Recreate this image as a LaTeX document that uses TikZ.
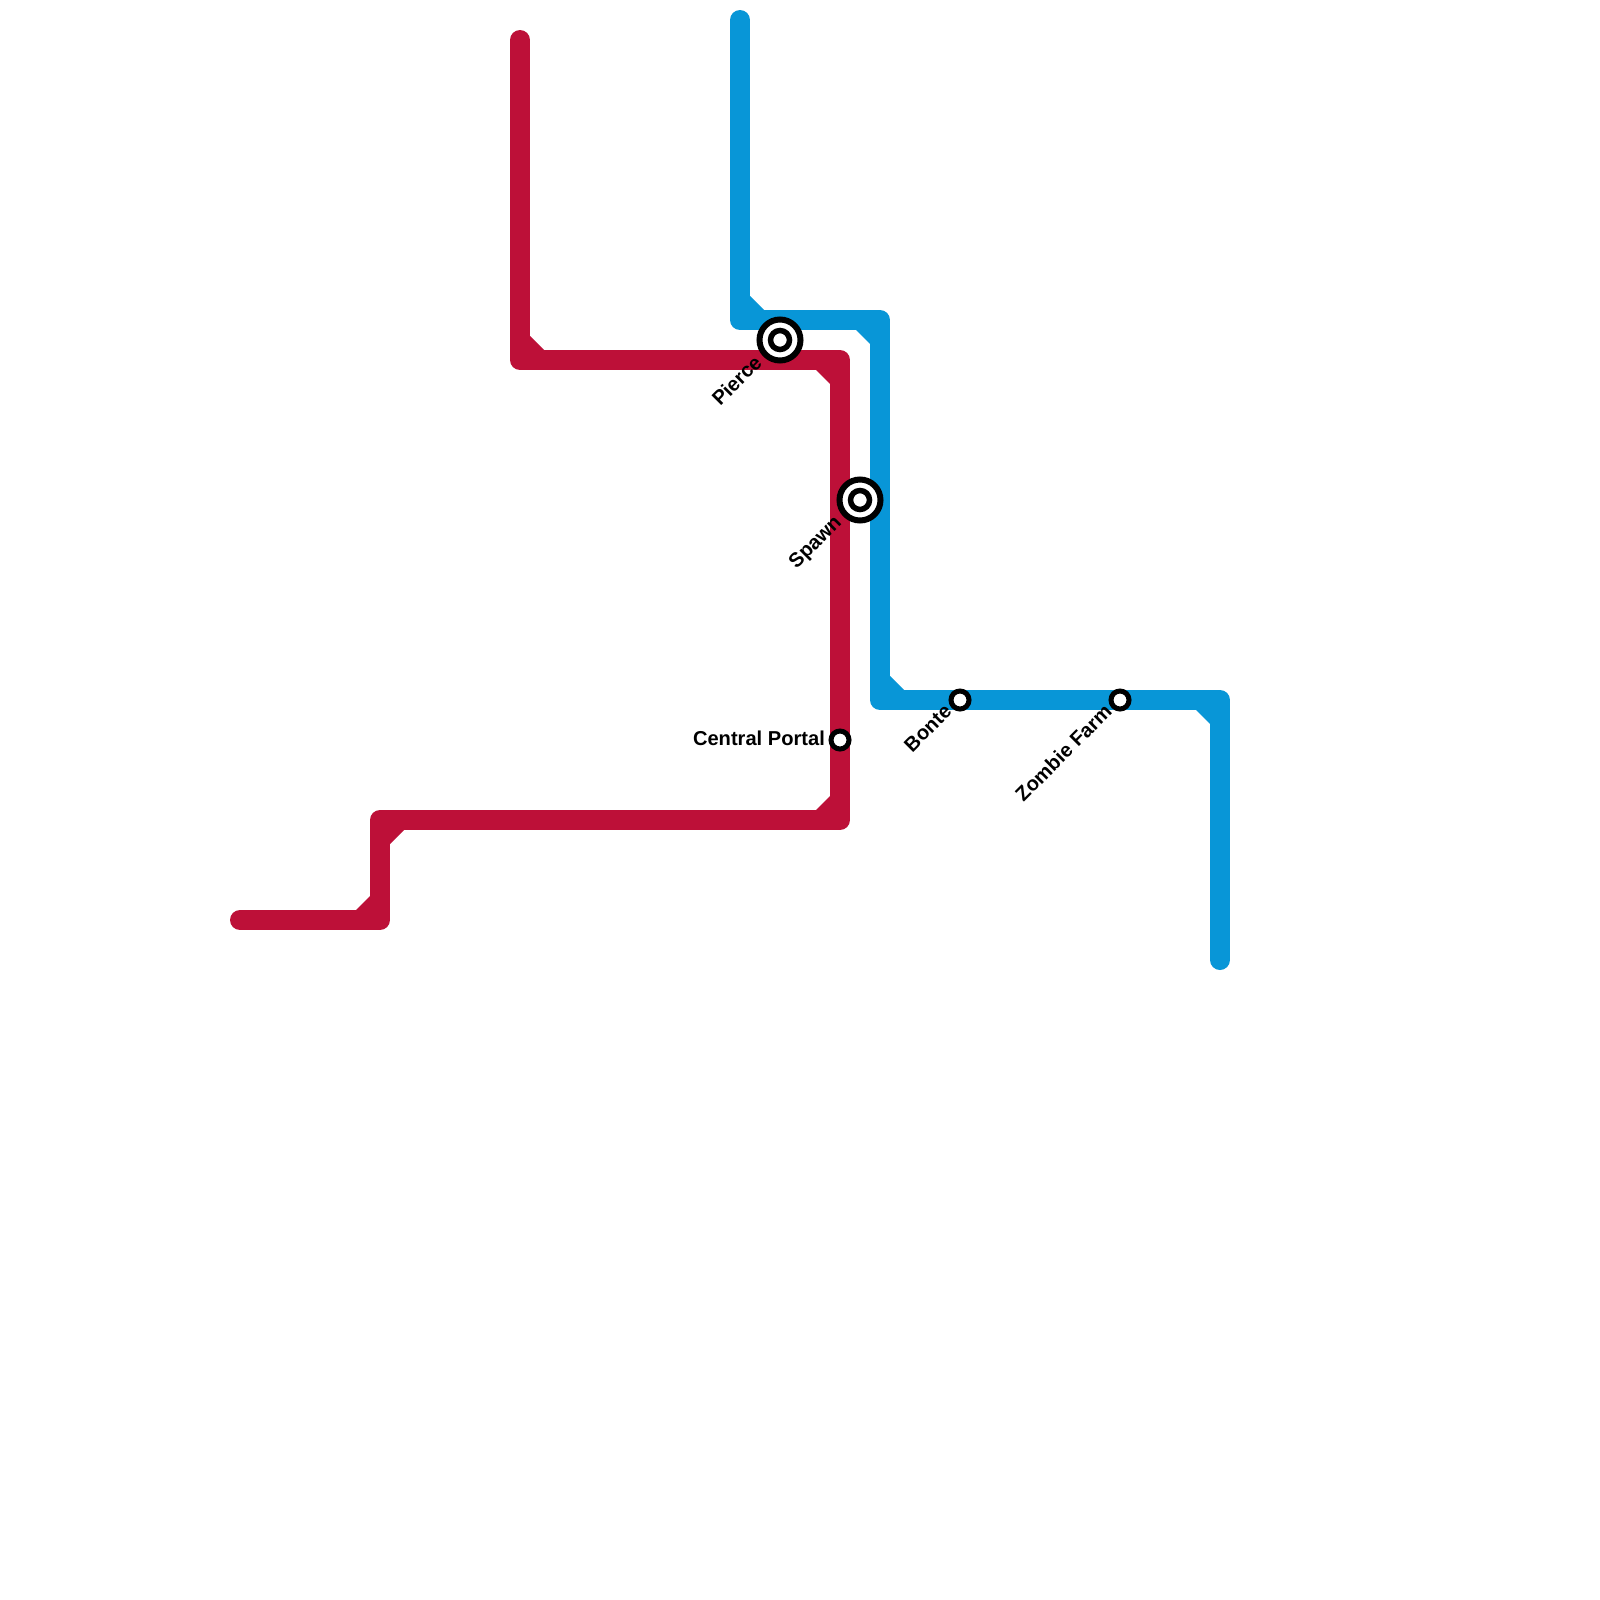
\documentclass[tikz,border=0pt]{standalone}
\usepackage{fontspec}
\setmainfont{Liberation Sans}
\definecolor{redline}{HTML}{BD1038}
\definecolor{blueline}{HTML}{0896D7}
\tikzset{
  metroline/.style={line width=20*0.05cm, line cap=round, line join=round},
  redroute/.style={metroline, draw=redline},
  blueroute/.style={metroline, draw=blueline},
  smallstation/.style={circle, draw=black, fill=white, line width=5*0.05cm, minimum size=18*0.05cm, inner sep=0pt},
  bigouter/.style={circle, draw=black, fill=white, line width=6*0.05cm, minimum size=41*0.05cm, inner sep=0pt},
  biginner/.style={circle, draw=black, fill=white, line width=5.5*0.05cm, minimum size=19*0.05cm, inner sep=0pt},
  stationlabel/.style={font=\bfseries\fontsize{28.6pt}{34pt}\selectfont, text=black, inner sep=0pt}
}
\begin{document}
\begin{tikzpicture}[x=0.05cm,y=-0.05cm]
\useasboundingbox (0,0) rectangle (1600,1600);
\fill[white] (0,0) rectangle (1600,1600);
% red line
\coordinate (r1) at (520,40);
\coordinate (r2) at (520,360);
\coordinate (r3) at (840,360);
\coordinate (r4) at (840,820);
\coordinate (r5) at (380,820);
\coordinate (r6) at (380,920);
\coordinate (r7) at (240,920);
\draw[redroute] (r1) -- (r2) -- (r3) -- (r4) -- (r5) -- (r6) -- (r7);
\fill[redline] (530,336) -- (530,350) -- (544,350) -- cycle;
\fill[redline] (816,370) -- (830,370) -- (830,384) -- cycle;
\fill[redline] (816,810) -- (830,810) -- (830,796) -- cycle;
\fill[redline] (390,844) -- (390,830) -- (404,830) -- cycle;
\fill[redline] (356,910) -- (370,910) -- (370,896) -- cycle;
% blue line
\coordinate (b1) at (740,20);
\coordinate (b2) at (740,320);
\coordinate (b3) at (880,320);
\coordinate (b4) at (880,700);
\coordinate (b5) at (1220,700);
\coordinate (b6) at (1220,960);
\draw[blueroute] (b1) -- (b2) -- (b3) -- (b4) -- (b5) -- (b6);
\fill[blueline] (750,296) -- (750,310) -- (764,310) -- cycle;
\fill[blueline] (856,330) -- (870,330) -- (870,344) -- cycle;
\fill[blueline] (890,676) -- (890,690) -- (904,690) -- cycle;
\fill[blueline] (1196,710) -- (1210,710) -- (1210,724) -- cycle;
% stations
\node[bigouter] (pierceo) at (780,340) {};
\node[biginner] (piercei) at (780,340) {};
\node[bigouter] (spawno) at (860,500) {};
\node[biginner] (spawni) at (860,500) {};
\node[smallstation] (central) at (840,740) {};
\node[smallstation] (bonte) at (960,700) {};
\node[smallstation] (zombie) at (1120,700) {};
% labels
\node[stationlabel, anchor=east, rotate=45] (lpierce) at (758,359) {Pierce};
\node[stationlabel, anchor=east, rotate=45] (lspawn) at (839,520) {Spawn};
\node[stationlabel, anchor=east] (lcentral) at (825,738.5) {Central Portal};
\node[stationlabel, anchor=east, rotate=45] (lbonte) at (948,708) {Bonte};
\node[stationlabel, anchor=east, rotate=45] (lzombie) at (1108,708) {Zombie Farm};
\end{tikzpicture}
\end{document}
